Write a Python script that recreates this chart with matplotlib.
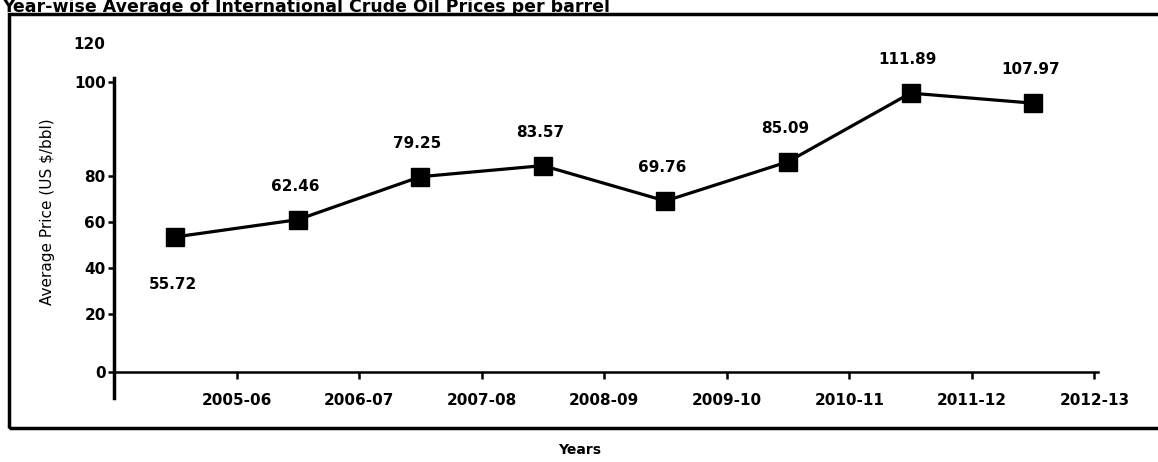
import matplotlib
matplotlib.use("Agg")
import matplotlib.pyplot as plt
from matplotlib.patches import Rectangle

# data
years = ["2005-06", "2006-07", "2007-08", "2008-09", "2009-10",
         "2010-11", "2011-12", "2012-13"]
prices = [55.72, 62.46, 79.25, 83.57, 69.76, 85.09, 111.89, 107.97]

# the printed y tick labels sit at uneven heights in the source chart
ytick_labels = ["0", "20", "40", "60", "80", "100"]
ytick_pos = [3.0, 25.6, 43.6, 61.6, 79.5, 116.3]
top_label, top_label_pos = "120", 131.0

narrow = ["Liberation Sans Narrow", "DejaVu Sans"]

fig = plt.figure(figsize=(11.58, 4.62), dpi=100)
ax = fig.add_axes([114 / 1158, 64 / 462, (1098 - 114) / 1158, (398 - 78) / 462])

x = list(range(len(prices)))
ax.plot(x, prices, color="black", lw=2.3, marker="s", markersize=13,
        markerfacecolor="black", markeredgecolor="black")

# value labels (first one sits below its point)
for i, v in enumerate(prices):
    off = -34 if i == 0 else 24
    ax.annotate(f"{v:.2f}", (i, v), xytext=(-2, off), textcoords="offset points",
                ha="center", va="center", fontsize=11, fontweight="bold",
                family=narrow)

ax.set_xlim(-0.5, 7.53)
ax.set_ylim(-7.2, 117.8)

ax.spines["top"].set_visible(False)
ax.spines["right"].set_visible(False)
ax.spines["left"].set_linewidth(2.5)
ax.spines["bottom"].set_linewidth(1.8)
ax.spines["bottom"].set_position(("data", ytick_pos[0]))

ax.set_xticks([i + 0.5 for i in range(len(years))])
ax.set_xticklabels(years, fontsize=11, fontweight="bold", family=narrow)
ax.tick_params(axis="x", direction="out", length=5, width=1.8, pad=10)

ax.set_yticks(ytick_pos)
ax.set_yticklabels(ytick_labels, fontsize=11, fontweight="bold", family=narrow)
ax.tick_params(axis="y", direction="out", length=4, width=1.8, pad=2)
ax.annotate(top_label, (0, top_label_pos), xycoords=("axes fraction", "data"),
            xytext=(-6, 0), textcoords="offset points", ha="right", va="center",
            fontsize=11, fontweight="bold", family=narrow, annotation_clip=False)

fig.text(48 / 1158, 1 - 212 / 462, "Average Price (US $/bbl)", rotation=90,
         ha="center", va="center", fontsize=11, family=narrow)
fig.text(580 / 1158, 1 - 450 / 462, "Years", ha="center", va="center",
         fontsize=10, fontweight="bold", family=narrow)

fig.text(2 / 1158, 1 - 12 / 462,
         "Year-wise Average of International Crude Oil Prices per barrel",
         ha="left", va="baseline", fontsize=12.5, fontweight="bold",
         family="DejaVu Sans")

# frame around the chart
fig.patches.append(Rectangle((9 / 1158, 1 - 428 / 462), 1.2, (428 - 14) / 462,
                             transform=fig.transFigure, fill=False,
                             edgecolor="black", lw=2.5, clip_on=False))

fig.savefig("out.png", dpi=100)
